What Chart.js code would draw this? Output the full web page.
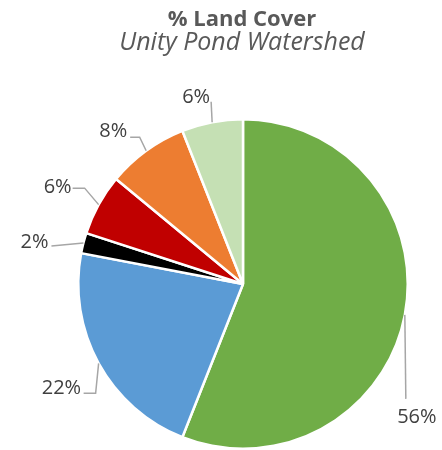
<!DOCTYPE html>
<html>
<head>
<meta charset="utf-8">
<script src="https://cdn.jsdelivr.net/npm/chart.js@4.4.1/dist/chart.umd.min.js"></script>
<style>
html,body{margin:0;padding:0;background:#fff;}
#wrap{width:442px;height:450px;position:relative;}
</style>
</head>
<body>
<div id="wrap"><canvas id="c" width="442" height="450"></canvas></div>
<script>
const titleText = "% Land Cover";
const subtitleText = "Unity Pond Watershed";
const categories = ["Forest", "Agriculture", "Wetland", "Developed", "Open Water", "Grassland/Shrub"];
const values = [56, 22, 2, 6, 8, 6];
const valueLabels = ["56%", "22%", "2%", "6%", "8%", "6%"];
const colors = ["#70AD47", "#5B9BD5", "#000000", "#C00000", "#ED7D31", "#C5E0B4"];

// leader-line layout relative to each slice's outer mid point (styling/layout only)
const leaderLayout = [
  {elbow:[1, 84], tail:0, text:[12, 108], align:"center"},
  {elbow:[-3, 30], tail:-12, text:[-17.5, 30.5], align:"right"},
  {elbow:[-32, 3], tail:0, text:[-35, 5], align:"right"},
  {elbow:[-14, -16.5], tail:-12, text:[-27, -11.5], align:"right"},
  {elbow:[-6.5, -13.5], tail:-9.5, text:[-19, -13.5], align:"right"},
  {elbow:[-1, -20.5], tail:0, text:[-2, -19.5], align:"right"}
];

const titlePlugin = {
  id: "titles",
  afterDraw(chart) {
    const ctx = chart.ctx;
    ctx.save();
    ctx.fillStyle = "#595959";
    ctx.textAlign = "center";
    ctx.textBaseline = "alphabetic";
    ctx.font = "bold 22px 'Open Sans'";
    ctx.fillText(titleText, 242, 26);
    ctx.font = "italic 25px 'Open Sans'";
    ctx.fillText(subtitleText, 242, 50);
    ctx.restore();
  }
};

const leaderPlugin = {
  id: "leaders",
  afterDatasetsDraw(chart) {
    const ctx = chart.ctx;
    const meta = chart.getDatasetMeta(0);
    ctx.save();
    meta.data.forEach((arc, i) => {
      const p = arc.getProps(["x","y","startAngle","endAngle","outerRadius"], true);
      const mid = (p.startAngle + p.endAngle) / 2;
      const ex = p.x + Math.cos(mid) * p.outerRadius;
      const ey = p.y + Math.sin(mid) * p.outerRadius;
      const L = leaderLayout[i];
      const bx = ex + L.elbow[0], by = ey + L.elbow[1];
      ctx.strokeStyle = "#A6A6A6";
      ctx.lineWidth = 1.5;
      ctx.beginPath();
      ctx.moveTo(ex, ey);
      ctx.lineTo(bx, by);
      if (L.tail) ctx.lineTo(bx + L.tail, by);
      ctx.stroke();
      ctx.fillStyle = "#404040";
      ctx.font = "20px 'Open Sans'";
      ctx.textAlign = L.align;
      ctx.textBaseline = "alphabetic";
      ctx.fillText(valueLabels[i], ex + L.text[0], ey + L.text[1]);
    });
    ctx.restore();
  }
};

new Chart(document.getElementById("c"), {
  type: "pie",
  data: {
    labels: categories,
    datasets: [{
      data: values,
      backgroundColor: colors,
      borderColor: "#FFFFFF",
      borderWidth: 2.5
    }]
  },
  options: {
    responsive: false,
    animation: false,
    layout: { padding: { top: 118, bottom: 0, left: 77, right: 33 } },
    plugins: {
      legend: { display: false },
      tooltip: { enabled: false },
      title: { display: false }
    }
  },
  plugins: [leaderPlugin, titlePlugin]
});
</script>
</body>
</html>
